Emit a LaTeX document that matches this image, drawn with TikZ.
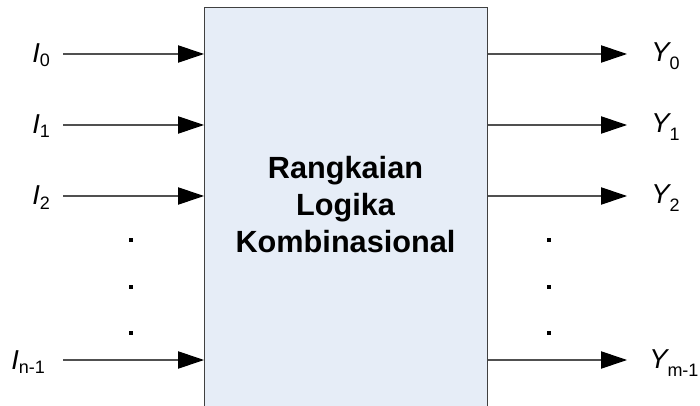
\documentclass[tikz,border=0pt]{standalone}
\usepackage{fontspec}
\setmainfont{Liberation Sans}
\usetikzlibrary{arrows.meta}
\definecolor{boxfill}{HTML}{E6EDF7}
\definecolor{boxline}{HTML}{404040}
\definecolor{wire}{HTML}{505050}
\newcommand{\lbl}[3]{{\fontsize{20.5}{24}\selectfont\itshape #1}\raisebox{-#3}{\fontsize{13.5}{15}\selectfont #2}}
\begin{document}
\begin{tikzpicture}[x=0.75pt,y=-0.75pt,
  wirestyle/.style={draw=wire,line width=0.8pt,-{Triangle[length=19.5pt,width=13pt,color=black]}},
  dotstyle/.style={fill=black,minimum size=3.2pt,inner sep=0pt,draw=none,rectangle},
  inlbl/.style={anchor=base west,inner sep=0pt},
  outlbl/.style={anchor=base west,inner sep=0pt}]
\clip (0,0) rectangle (700,406);
\fill[white] (0,0) rectangle (700,406);
\node[fill=boxfill,draw=boxline,line width=0.8pt,minimum width=283*0.75pt,minimum height=410*0.75pt,inner sep=0pt,anchor=north west] (box) at (204,7) {};
\node[font=\fontsize{23}{27.75}\selectfont\bfseries,align=center,anchor=center] (title) at (345.5,205) {Rangkaian\\Logika\\Kombinasional};
% input coordinates
\coordinate (i0) at (63,54);
\coordinate (i1) at (63,125);
\coordinate (i2) at (63,196);
\coordinate (in) at (63,360);
\coordinate (o0) at (627,54);
\coordinate (o1) at (627,125);
\coordinate (o2) at (627,196);
\coordinate (om) at (627,360);
\foreach \c in {i0,i1,i2,in}{\draw[wirestyle] (\c) -- (\c -| box.west);}
\foreach \c in {o0,o1,o2,om}{\draw[wirestyle] (\c -| box.east) -- (\c);}
% labels
\node[inlbl] (li0) at (32,63) {\lbl{I}{0}{3pt}};
\node[inlbl] (li1) at (32,134) {\lbl{I}{1}{3pt}};
\node[inlbl] (li2) at (32,205) {\lbl{I}{2}{3pt}};
\node[inlbl] (lin) at (11,369) {\lbl{I}{n-1}{3pt}};
\node[outlbl] (lo0) at (651,62) {\lbl{Y}{0}{6pt}};
\node[outlbl] (lo1) at (651,133) {\lbl{Y}{1}{6pt}};
\node[outlbl] (lo2) at (651,204) {\lbl{Y}{2}{6pt}};
\node[outlbl] (lom) at (649,368) {\lbl{Y}{m-1}{6pt}};
% dots
\node[dotstyle] (dl1) at (131,240) {};
\node[dotstyle] (dl2) at (131,287) {};
\node[dotstyle] (dl3) at (131,333) {};
\node[dotstyle] (dr1) at (549,240) {};
\node[dotstyle] (dr2) at (549,287) {};
\node[dotstyle] (dr3) at (549,333) {};
\end{tikzpicture}
\end{document}
